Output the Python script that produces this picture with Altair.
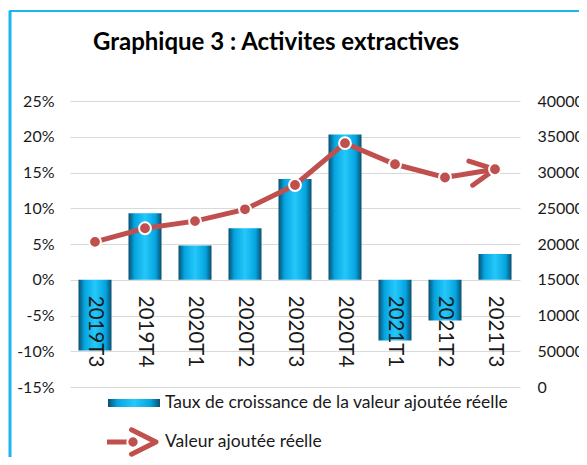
import altair as alt
import pandas as pd

categories = ["2019T3", "2019T4", "2020T1", "2020T2", "2020T3", "2020T4", "2021T1", "2021T2", "2021T3"]
growth_pct = [-9.9, 9.3, 4.8, 7.2, 14.1, 20.3, -8.5, -5.7, 3.6]
value_added = [203000, 222000, 232000, 248500, 282500, 341000, 311500, 293000, 304500]
left_ticks = [-15, -10, -5, 0, 5, 10, 15, 20, 25]
right_ticks = [0, 50000, 100000, 150000, 200000, 250000, 300000, 350000, 400000]
title_text = "Graphique 3 : Activites extractives"
legend_bar = "Taux de croissance de la valeur ajoutée réelle"
legend_line = "Valeur ajoutée réelle"

df = pd.DataFrame({"cat": categories, "growth": growth_pct, "va": value_added})
last = df.tail(1)

FONT = "Lato"
RED = "#C0504D"
BLUE_EDGE = "#1EB4F0"

bar_grad = alt.Gradient(
    gradient="linear", x1=0, x2=1, y1=0, y2=0,
    stops=[
        alt.GradientStop(color="#0B4F6E", offset=0),
        alt.GradientStop(color="#05A4E0", offset=0.18),
        alt.GradientStop(color="#25C8FA", offset=0.5),
        alt.GradientStop(color="#05A4E0", offset=0.82),
        alt.GradientStop(color="#0B4F6E", offset=1),
    ],
)

xs = alt.X("cat:N", sort=categories, axis=None,
           scale=alt.Scale(paddingInner=0.34, paddingOuter=0.17))

left_scale = alt.Scale(domain=[-15, 25], nice=False, zero=False)
left_axis = alt.Axis(values=left_ticks, labelExpr="datum.value + '%'",
                     labelFont=FONT, labelFontSize=16, labelColor="#1a1a1a",
                     labelPadding=16, labelOverlap=False, ticks=False, domain=False,
                     grid=True, gridColor="#D9D9D9", gridWidth=1)

bars = alt.Chart(df).mark_bar(color=bar_grad).encode(
    x=xs,
    y=alt.Y("growth:Q", title=None, scale=left_scale, axis=left_axis),
    y2=alt.datum(0),
)

xlabels = alt.Chart(df).mark_text(
    angle=90, align="left", baseline="middle", dx=16,
    font=FONT, fontSize=20.5, color="#1a1a1a"
).encode(x=xs, y=alt.Y(datum=0, title=None, scale=left_scale, axis=left_axis), text="cat:N")

# title as text
title_mark = alt.Chart(pd.DataFrame({"t": [title_text]})).mark_text(
    align="center", baseline="middle", font=FONT, fontSize=24, fontWeight="bold",
    color="#000000"
).encode(x=alt.value(206), y=alt.value(-58), text="t:N")

# manual legend
leg_df = pd.DataFrame({"a": [0]})
leg_bar = alt.Chart(leg_df).mark_rect(color=bar_grad).encode(
    x=alt.value(38), x2=alt.value(90), y=alt.value(298), y2=alt.value(306))
leg_bar_txt = alt.Chart(pd.DataFrame({"t": [legend_bar]})).mark_text(
    align="left", baseline="middle", font=FONT, fontSize=17.5, color="#1a1a1a"
).encode(x=alt.value(95), y=alt.value(302), text="t:N")
leg_line = alt.Chart(leg_df).mark_rule(color=RED, strokeWidth=5).encode(
    x=alt.value(37), x2=alt.value(60), y=alt.value(341))
leg_dot = alt.Chart(leg_df).mark_point(shape="circle", filled=True, size=130,
                                       color=RED, stroke="white", strokeWidth=2, opacity=1).encode(
    x=alt.value(63), y=alt.value(341))
leg_chev = alt.Chart(leg_df).mark_point(shape="M-2,-1L0,0L-2,1", filled=False, size=600,
                                        color=RED, strokeWidth=5, strokeCap="round",
                                        strokeJoin="round", opacity=1).encode(
    x=alt.value(86), y=alt.value(341))
leg_line_txt = alt.Chart(pd.DataFrame({"t": [legend_line]})).mark_text(
    align="left", baseline="middle", font=FONT, fontSize=17.5, color="#1a1a1a"
).encode(x=alt.value(95), y=alt.value(341), text="t:N")

# frame decoration
frame_v = alt.Chart(leg_df).mark_rule(color=BLUE_EDGE, strokeWidth=3).encode(
    x=alt.value(-60), y=alt.value(-90), y2=alt.value(400))
frame_h = alt.Chart(leg_df).mark_rule(color=BLUE_EDGE, strokeWidth=2).encode(
    x=alt.value(-61), x2=alt.value(520), y=alt.value(-90))

left_group = alt.layer(bars, xlabels, title_mark, leg_bar, leg_bar_txt, leg_line, leg_dot,
                       leg_chev, leg_line_txt, frame_v, frame_h)

yr = alt.Y("va:Q", title=None,
           scale=alt.Scale(domain=[0, 400000], nice=False),
           axis=alt.Axis(orient="right", values=right_ticks, format="d",
                         labelFont=FONT, labelFontSize=16, labelColor="#1a1a1a",
                         labelPadding=17, labelOverlap=False, ticks=False, domain=False,
                         grid=False))

line = alt.Chart(df).mark_line(color=RED, strokeWidth=5).encode(x=xs, y=yr)
pts = alt.Chart(df).mark_point(shape="circle", filled=True, size=140, color=RED,
                               stroke="white", strokeWidth=2, opacity=1).encode(x=xs, y=yr)
chev = alt.Chart(last).mark_point(shape="M-2,-1L0,0L-2,1", filled=False, size=600,
                                  color=RED, strokeWidth=5, strokeCap="round",
                                  strokeJoin="round", angle=351, opacity=1).encode(x=xs, y=yr)

right_group = alt.layer(line, chev, pts)

chart = alt.layer(left_group, right_group).resolve_scale(y="independent").properties(
    width=450, height=286,
    autosize=alt.AutoSizeParams(type="none"),
    padding={"left": 62, "top": 93, "right": 59, "bottom": 70},
).configure_view(stroke=None).configure_axis(labelOverlap=False)

chart.save("out.html", embed_options={"renderer": "svg", "actions": False})
